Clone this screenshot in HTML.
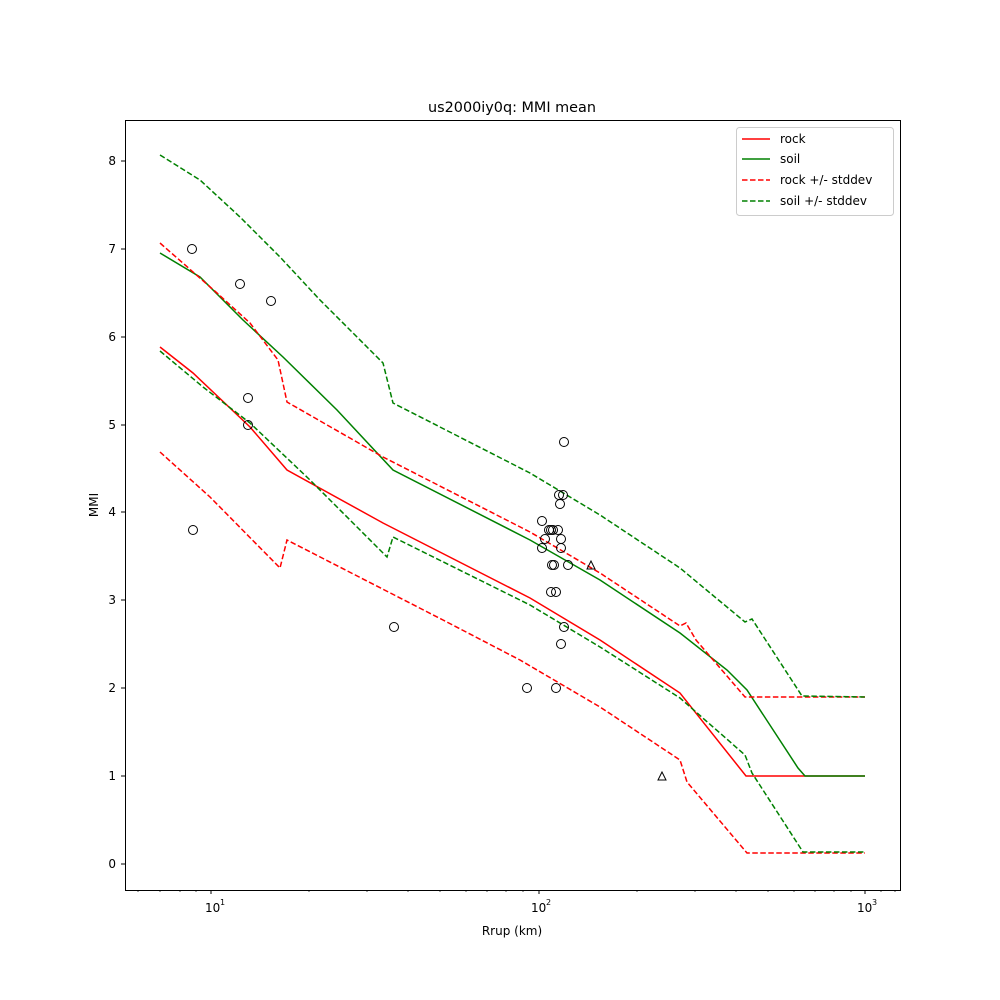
<!DOCTYPE html><html><head><style>body{margin:0;background:#fff}svg{display:block}text{font-family:"DejaVu Sans","Liberation Sans",sans-serif;font-size:12px}</style></head><body>
<svg width="1000" height="1000" xmlns="http://www.w3.org/2000/svg">
<rect width="1000" height="1000" fill="#fff"/>
<g fill="none" stroke-width="1.5">
<polyline stroke="#ff0000" points="160,347 193,373 250,427 287,470 383,523 530,598 600,640 680,693 746,776 865,776"/>
<polyline stroke="#008000" points="160,253 200,277 243,320 283,357 337,410 393,470 530,540 600,580 680,633 727,670 747,690 798,768 805,776 865,776"/>
<g stroke-dasharray="5.5,2.5">
<polyline stroke="#ff0000" points="160,243 217,293 250,323 278,360 287,402 383,457 530,532 600,573 680,626 686,623 696,640 745,697 865,697"/>
<polyline stroke="#ff0000" points="160,452 210,497 280,568 287,540 443,620 520,660 600,707 680,760 687,782 747,853 865,853"/>
<polyline stroke="#008000" points="160,155 200,180 240,217 280,257 320,300 383,363 393,403 530,473 600,515 680,568 745,622 752,619 802,696 865,697"/>
<polyline stroke="#008000" points="160,351 203,387 250,423 310,480 387,557 393,537 530,605 600,647 680,698 745,755 752,773 803,852 865,852"/>
</g></g>
<g fill="none" stroke="#000" stroke-width="1">
<circle cx="192" cy="249" r="4.5"/><circle cx="240" cy="284" r="4.5"/><circle cx="271" cy="301" r="4.5"/><circle cx="248" cy="398" r="4.5"/><circle cx="248" cy="425" r="4.5"/><circle cx="193" cy="530" r="4.5"/><circle cx="394" cy="627" r="4.5"/>
<circle cx="564" cy="442" r="4.5"/><circle cx="559" cy="495" r="4.5"/><circle cx="563" cy="495" r="4.5"/><circle cx="560" cy="504" r="4.5"/><circle cx="542" cy="521" r="4.5"/><circle cx="549" cy="530" r="4.5"/><circle cx="551" cy="530" r="4.5"/><circle cx="553" cy="530" r="4.5"/><circle cx="558" cy="530" r="4.5"/><circle cx="545" cy="539" r="4.5"/><circle cx="561" cy="539" r="4.5"/><circle cx="542" cy="548" r="4.5"/><circle cx="561" cy="548" r="4.5"/><circle cx="552" cy="565" r="4.5"/><circle cx="554" cy="565" r="4.5"/><circle cx="568" cy="565" r="4.5"/><circle cx="551" cy="592" r="4.5"/><circle cx="556" cy="592" r="4.5"/><circle cx="564" cy="627" r="4.5"/><circle cx="561" cy="644" r="4.5"/><circle cx="527" cy="688" r="4.5"/><circle cx="556" cy="688" r="4.5"/>
<polygon points="591,561 587,569 595,569"/><polygon points="662,772 658,780 666,780"/>
</g>
<rect x="125.5" y="120.5" width="775" height="770" fill="none" stroke="#000"/>
<g stroke="#000">
<line x1="211" y1="890" x2="211" y2="894"/><line x1="539" y1="890" x2="539" y2="894"/><line x1="865" y1="890" x2="865" y2="894"/>
<g stroke-width="0.7">
<line x1="138" y1="890" x2="138" y2="892"/><line x1="160" y1="890" x2="160" y2="892"/><line x1="180" y1="890" x2="180" y2="892"/><line x1="196" y1="890" x2="196" y2="892"/>
<line x1="309" y1="890" x2="309" y2="892"/><line x1="367" y1="890" x2="367" y2="892"/><line x1="408" y1="890" x2="408" y2="892"/><line x1="440" y1="890" x2="440" y2="892"/><line x1="466" y1="890" x2="466" y2="892"/><line x1="487" y1="890" x2="487" y2="892"/><line x1="506" y1="890" x2="506" y2="892"/><line x1="523" y1="890" x2="523" y2="892"/>
<line x1="637" y1="890" x2="637" y2="892"/><line x1="695" y1="890" x2="695" y2="892"/><line x1="736" y1="890" x2="736" y2="892"/><line x1="768" y1="890" x2="768" y2="892"/><line x1="794" y1="890" x2="794" y2="892"/><line x1="815" y1="890" x2="815" y2="892"/><line x1="834" y1="890" x2="834" y2="892"/><line x1="851" y1="890" x2="851" y2="892"/>
<line x1="881" y1="890" x2="881" y2="892"/><line x1="895" y1="890" x2="895" y2="892"/>
</g>
<line x1="121" y1="864" x2="125" y2="864"/><line x1="121" y1="776" x2="125" y2="776"/><line x1="121" y1="688" x2="125" y2="688"/><line x1="121" y1="600" x2="125" y2="600"/><line x1="121" y1="512" x2="125" y2="512"/><line x1="121" y1="425" x2="125" y2="425"/><line x1="121" y1="337" x2="125" y2="337"/><line x1="121" y1="249" x2="125" y2="249"/><line x1="121" y1="161" x2="125" y2="161"/>
</g>
<g text-anchor="end">
<text x="116" y="868">0</text><text x="116" y="780">1</text><text x="116" y="692">2</text><text x="116" y="604">3</text><text x="116" y="516">4</text><text x="116" y="429">5</text><text x="116" y="341">6</text><text x="116" y="253">7</text><text x="116" y="165">8</text>
</g>
<text x="205" y="912">10</text><text x="220" y="905" style="font-size:8px">1</text>
<text x="531" y="912">10</text><text x="546" y="905" style="font-size:8px">2</text>
<text x="857" y="912">10</text><text x="872" y="905" style="font-size:8px">3</text>
<text x="512" y="935" text-anchor="middle">Rrup (km)</text>
<text x="98" y="505" text-anchor="middle" transform="rotate(-90 98 505)">MMI</text>
<text x="512" y="112" text-anchor="middle" style="font-size:14.4px">us2000iy0q: MMI mean</text>
<rect x="736.5" y="127.5" width="157" height="88" rx="3" fill="#fff" stroke="#ccc"/>
<g stroke-width="1.5">
<line x1="742" y1="139" x2="770" y2="139" stroke="#ff0000"/>
<line x1="742" y1="159" x2="770" y2="159" stroke="#008000"/>
<line x1="742" y1="180" x2="770" y2="180" stroke="#ff0000" stroke-dasharray="5.5,2.5"/>
<line x1="742" y1="201" x2="770" y2="201" stroke="#008000" stroke-dasharray="5.5,2.5"/>
</g>
<text x="780" y="143">rock</text><text x="780" y="163">soil</text><text x="780" y="184">rock +/- stddev</text><text x="780" y="205">soil +/- stddev</text>
</svg></body></html>
